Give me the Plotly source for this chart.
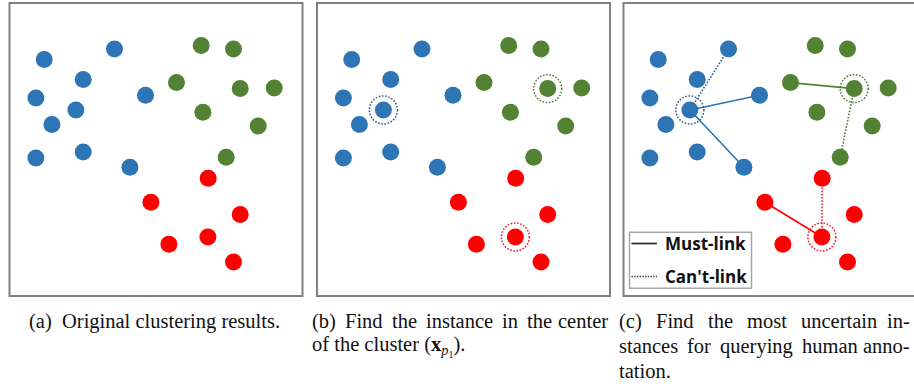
import plotly.graph_objects as go

# ---------------- data (positions inside each panel frame, frame is 293 x 293 units) -------------
blue_x = [34.7, 105.0, 73.7, 26.4, 66.4, 42.4, 136.0, 26.4, 73.7, 120.4]
blue_y = [56.6, 46.0, 76.6, 95.0, 107.0, 121.6, 92.3, 155.0, 149.0, 164.3]
green_x = [191.7, 224.0, 167.0, 230.7, 264.7, 193.4, 248.7, 216.7]
green_y = [42.6, 46.0, 79.6, 85.6, 85.0, 109.3, 123.0, 154.3]
red_x = [198.7, 141.4, 230.7, 198.4, 159.4, 224.0]
red_y = [175.3, 199.3, 211.6, 234.0, 241.3, 259.0]

# index of the cluster-centre instance in each cluster
blue_center, green_center, red_center = 4, 3, 3
# links in panel (c): (cluster, target index, kind)
links = [
    ("blue", 1, "cannot"), ("blue", 6, "must"), ("blue", 9, "must"),
    ("green", 2, "must"), ("green", 7, "cannot"),
    ("red", 1, "must"), ("red", 0, "cannot"),
]
# caption words: (text, x pixel, anchor)
captions = {
    "a": [[("(a)", 26.7, "left"), ("Original clustering results.", 60, "left")]],
    "b": [[("(b)", 310, "left"), ("Find", 343, "left"), ("the", 390, "left"), ("instance", 424, "left"),
           ("in", 500, "left"), ("the", 525, "left"), ("center", 610, "right")],
          [("of the cluster (<b>x</b><sub><i>p</i><sub>1</sub></sub>).", 310, "left")]],
    "c": [[("(c)", 617, "left"), ("Find", 654, "left"), ("the", 706, "left"), ("most", 745, "left"),
           ("uncertain", 799, "left"), ("in-", 912, "right")],
          [("stances", 617, "left"), ("for", 685, "left"), ("querying", 718, "left"), ("human", 800, "left"),
           ("anno-", 912, "right")],
          [("tation.", 617, "left")]],
}
legend_labels = ["Must-link", "Can't-link"]

# ---------------- style ----------------
W, H = 914, 389
COL = {"blue": "#2E75B6", "green": "#548235", "red": "#FF0000"}
RING = {"blue": "#2E5C8A", "green": "#4E7A32", "red": "#E0202A"}
clusters = {
    "blue": (blue_x, blue_y, blue_center),
    "green": (green_x, green_y, green_center),
    "red": (red_x, red_y, red_center),
}
FRAME = 293.0
panel_left = [9.5, 317.0, 623.5]
panel_top = 3.0
DOT = "1.6px,1.6px"

fig = go.Figure()

def px2x(p):
    return p / W

def px2y(p):
    return 1 - p / H

for i, left in enumerate(panel_left):
    ax = "" if i == 0 else str(i + 1)
    xa = "x" + ax
    ya = "y" + ax
    dom_x = [px2x(left), min(1.0, px2x(left + FRAME))]
    dom_y = [px2y(panel_top + FRAME), px2y(panel_top)]
    xr = [0, (dom_x[1] - dom_x[0]) * W]
    fig.update_layout(**{
        "xaxis" + ax: dict(domain=dom_x, range=xr, visible=False, fixedrange=True),
        "yaxis" + ax: dict(domain=dom_y, range=[FRAME, 0], visible=False, fixedrange=True),
    })
    # links (panel c)
    if i == 2:
        for cname, tgt, kind in links:
            xs, ys, c = clusters[cname]
            fig.add_trace(go.Scatter(
                x=[xs[c], xs[tgt]], y=[ys[c], ys[tgt]], mode="lines",
                line=dict(color=COL[cname] if kind == "must" else RING[cname], width=1.6,
                          dash="solid" if kind == "must" else DOT),
                xaxis=xa, yaxis=ya, showlegend=False, hoverinfo="skip"))
    for cname, (xs, ys, c) in clusters.items():
        fig.add_trace(go.Scatter(
            x=xs, y=ys, mode="markers",
            marker=dict(size=17, color=COL[cname], line=dict(width=0)),
            xaxis=xa, yaxis=ya, showlegend=False, hoverinfo="skip"))
        if i >= 1:
            r = 14
            fig.add_shape(type="circle", xref=xa, yref=ya,
                          x0=xs[c] - r, x1=xs[c] + r, y0=ys[c] - r, y1=ys[c] + r,
                          line=dict(color=RING[cname], width=1.5, dash=DOT))
    # frame
    fig.add_shape(type="rect", xref="paper", yref="paper",
                  x0=px2x(left), x1=px2x(left + FRAME), y0=px2y(panel_top + FRAME), y1=px2y(panel_top),
                  line=dict(color="#808080", width=2))

# legend box in panel c
fig.add_shape(type="rect", xref="paper", yref="paper",
              x0=px2x(629.5), x1=px2x(751.5), y0=px2y(288.3), y1=px2y(232.3),
              line=dict(color="#A6A6A6", width=1.5), fillcolor="white")
for k, (ly, dash) in enumerate([(243.5, "solid"), (276.5, "1.5px,1.2px")]):
    fig.add_shape(type="line", xref="paper", yref="paper",
                  x0=px2x(631.5), x1=px2x(657), y0=px2y(ly), y1=px2y(ly),
                  line=dict(color="#333333" if dash == "solid" else "#444444",
                            width=1.8 if dash == "solid" else 1.5, dash=dash))
    fig.add_annotation(text="<b>%s</b>" % legend_labels[k], xref="paper", yref="paper",
                       x=px2x(663), y=px2y(ly), xanchor="left", yanchor="middle", showarrow=False,
                       font=dict(family="Open Sans", size=17, color="#111111"))

# captions
row_y = [321.0, 346.0, 371.0]
for key, rows in captions.items():
    for r, words in enumerate(rows):
        for text, xpx, anchor in words:
            fig.add_annotation(text=text, xref="paper", yref="paper",
                               x=px2x(xpx), y=px2y(row_y[r]), xanchor=anchor, yanchor="middle",
                               showarrow=False,
                               font=dict(family="Liberation Serif", size=20.5, color="#111111"))

fig.update_layout(width=W, height=H, margin=dict(l=0, r=0, t=0, b=0),
                  paper_bgcolor="white", plot_bgcolor="white", showlegend=False)
fig.write_html("out.html", config={"displayModeBar": False},
               post_script="document.body.style.margin='0';document.body.style.overflow='hidden';")
